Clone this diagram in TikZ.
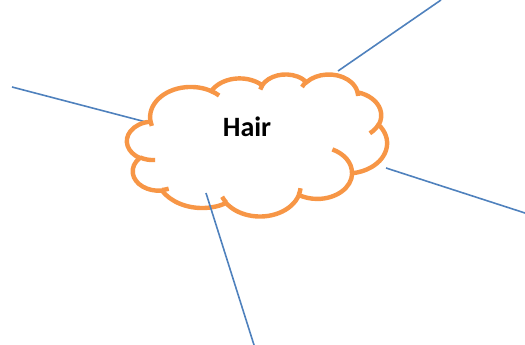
\documentclass[tikz,border=0pt]{standalone}
\usepackage{fontspec}
\setmainfont{Carlito}
\usepackage{tikz}
\definecolor{cloudorange}{HTML}{F79646}
\definecolor{linkblue}{HTML}{4F81BD}
\tikzset{
  cloudline/.style={draw=cloudorange, line width=3.3pt},
  link/.style={draw=linkblue, line width=1.2pt}
}

\begin{document}
\begin{tikzpicture}[x=0.75pt, y=-0.75pt]
  \useasboundingbox (0,0) rectangle (525,345);
  \coordinate (leftfar) at (12,87);
  \coordinate (leftnear) at (146,122);
  \coordinate (topfar) at (441,0);
  \coordinate (topnear) at (338,71);
  \coordinate (rightfar) at (525,213);
  \coordinate (rightnear) at (386,168);
  \coordinate (downfar) at (254,345);
  \coordinate (downnear) at (206,193);

  \draw[link] (leftfar) -- (leftnear);

  % cloud outline
  \begin{scope}[shift={(95.25pt,-55.5pt)}, x=0.45139pt, y=-0.24653pt]
    \draw[cloudline, fill=white] (39,143.7)
      arc[start angle=-187.75, end angle=-59.64, x radius=67.53, y radius=91.90]
      arc[start angle=-152.04, end angle=-45.43, x radius=53.33, y radius=72.67]
      arc[start angle=-153.49, end angle=-37.32, x radius=43.65, y radius=59.45]
      arc[start angle=-139.71, end angle=-10.21, x radius=48.57, y radius=65.95]
      arc[start angle=-74.77, end angle=23.21, x radius=53.33, y radius=72.73]
      arc[start angle=-37.52, end angle=81.86, x radius=67.75, y radius=92.20]
      arc[start angle=0.46, end angle=121.98, x radius=57.85, y radius=78.67]
      arc[start angle=16.84, end angle=146.22, x radius=67.52, y radius=92.15]
      arc[start angle=58.99, end angle=150.17, x radius=77.20, y radius=105.43]
      arc[start angle=83.31, end angle=223.12, x radius=43.60, y radius=59.18]
      arc[start angle=120.36, end angle=264.11, x radius=43.45, y radius=59.45]
      -- cycle;
    % inner hooks
    \foreach \mx/\my/\rx/\ry/\sa/\ea in {
      46.93/261.77/43.45/59.45/85.55/120.36,
      69.28/348.99/43.60/59.18/68.24/83.31,
      164.78/390.90/67.52/92.15/146.22/158.47,
      288.27/347.51/67.52/92.15/4.74/16.84,
      341.29/229.54/57.85/78.67/-64.03/0.46,
      417.98/153.54/53.33/72.73/23.21/49.64,
      383.24/54.26/48.57/65.95/-10.21/0.82,
      290.78/39.52/48.57/65.95/-156.29/-139.71,
      221.41/47.20/43.65/59.45/-167.73/-153.49,
      140.00/51.92/67.53/91.90/-59.64/-45.70,
      41.27/157.89/67.53/91.90/163.20/172.25
    }{
      \draw[cloudline] (\mx,\my) arc[start angle=\sa, end angle=\ea, x radius=\rx, y radius=\ry];
    }
  \end{scope}

  \node[font=\fontsize{21}{25}\selectfont\bfseries] (hair) at (247,127) {Hair};

  \draw[link] (topnear) -- (topfar);
  \draw[link] (rightnear) -- (rightfar);
  \draw[link] (downnear) -- (downfar);
\end{tikzpicture}
\end{document}
